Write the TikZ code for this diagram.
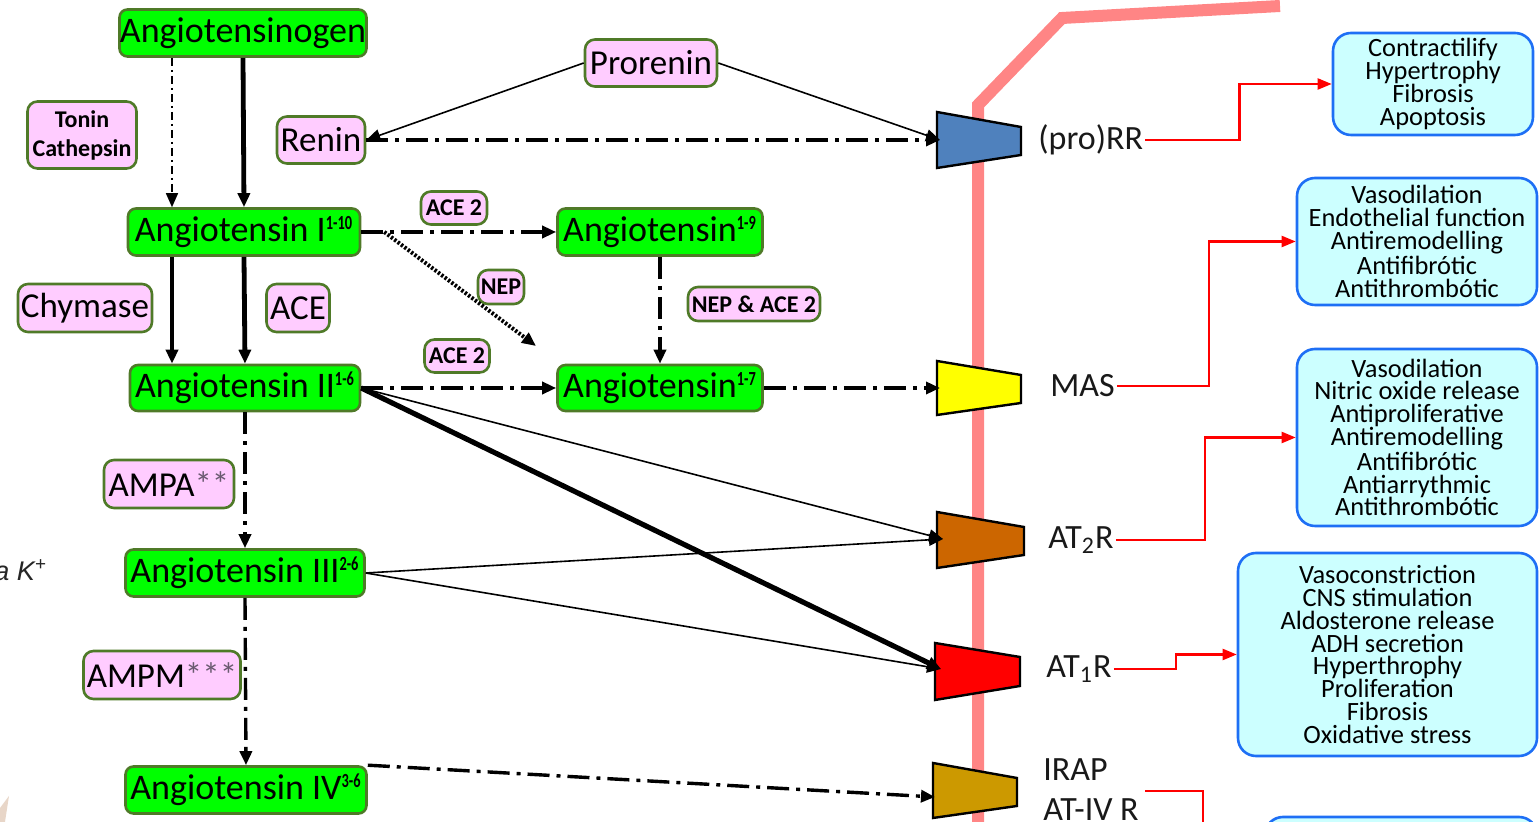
\documentclass[tikz,border=0pt]{standalone}
\usepackage{fontspec}
\setmainfont{Carlito}
\newfontfamily\arialf{Liberation Sans}
\usetikzlibrary{arrows.meta}
\definecolor{gfill}{HTML}{00FF00}
\definecolor{bord}{HTML}{4F7A28}
\definecolor{pfill}{HTML}{FFCCFF}
\definecolor{bfill}{HTML}{CCFFFF}
\definecolor{bbord}{HTML}{1E6FF5}
\definecolor{memb}{HTML}{FF8585}
\definecolor{rblue}{HTML}{4F81BD}
\definecolor{ryellow}{HTML}{FFFF00}
\definecolor{rbrown}{HTML}{CC6600}
\definecolor{rred}{HTML}{FF0000}
\definecolor{rgold}{HTML}{CC9900}
\definecolor{beige}{HTML}{E8D6C8}
\definecolor{astc}{HTML}{6A5A70}
\newcommand{\spr}[1]{\textsuperscript{\scalebox{0.72}[1]{\bfseries\fontsize{10}{10}\selectfont #1}}}
\tikzset{
  sz/.style 2 args={minimum width=#1*0.5pt, minimum height=#2*0.5pt},
  gbox/.style={draw=bord, fill=gfill, line width=1.3pt, rounded corners=4pt, inner sep=0pt, font=\fontsize{18}{19}\selectfont},
  pbox/.style={draw=bord, fill=pfill, line width=1.3pt, rounded corners=5pt, inner sep=0pt, align=center, font=\fontsize{17.5}{19}\selectfont},
  sbox/.style={pbox, font=\bfseries\fontsize{12}{14.5}\selectfont},
  ebox/.style={draw=bbord, fill=bfill, line width=1.3pt, rounded corners=9pt, inner sep=0pt, align=center, font=\fontsize{13.2}{11.4}\selectfont},
  rlab/.style={inner sep=1pt, text=black!90, font=\fontsize{17}{18}\selectfont},
  arr/.style={-{Triangle[length=7pt,width=6pt]}},
  rarr/.style={-{Triangle[length=7pt,width=5.5pt]}},
  thinl/.style={line width=0.8pt},
  thickl/.style={line width=2.4pt},
  ddthick/.style={line width=1.7pt, dash pattern=on 11pt off 3.5pt on 2pt off 3.5pt},
  ddthin/.style={line width=0.8pt, dash pattern=on 4pt off 2pt on 1pt off 2pt},
  dotl/.style={line width=2pt, dash pattern=on 1.2pt off 0.9pt},
  rline/.style={draw=rred, line width=1.1pt},
  recep/.style={draw=black, line width=1.2pt, line join=miter},
}
\begin{document}
\begin{tikzpicture}[x=0.5pt, y=-0.5pt]
\useasboundingbox (0,0) rectangle (1539,822);
\clip (0,0) rectangle (1539,822);

% decoration at bottom left
\fill[beige] (0,808) -- (9,796) -- (5,822) -- (0,822) -- cycle;

% membrane
\draw[memb, line width=6pt] (978,830) -- (978,105) -- (1062,18) -- (1280,6);

% receptors
\filldraw[recep, fill=rblue] (937,112) -- (1021,127) -- (1021,155) -- (937,168) -- cycle;
\filldraw[recep, fill=ryellow] (937,361) -- (1021,375) -- (1021,403) -- (937,415) -- cycle;
\filldraw[recep, fill=rbrown] (937,512) -- (1024,527) -- (1024,555) -- (937,568) -- cycle;
\filldraw[recep, fill=rred] (935,643) -- (1020,657) -- (1020,686) -- (935,700) -- cycle;
\filldraw[recep, fill=rgold] (933,763) -- (1017,778) -- (1017,806) -- (933,818) -- cycle;
\coordinate (prr) at (940,140);
\coordinate (mas) at (940,388);
\coordinate (at2) at (943,539);
\coordinate (at1) at (941,669);
\coordinate (irap) at (935,797);

% receptor labels
\node[rlab, anchor=west] (lprr) at (1036,140) {(pro)RR};
\node[rlab, anchor=west] (lmas) at (1048,386) {MAS};
\node[rlab, anchor=west] (lat2) at (1046,540) {AT\textsubscript{2}R};
\node[rlab, anchor=west] (lat1) at (1044,669) {AT\textsubscript{1}R};
\node[rlab, anchor=west] (lirap) at (1041,770) {IRAP};
\node[rlab, anchor=west] (lativ) at (1041,810) {AT-IV R};

% effect boxes
\node[ebox, sz={200}{102}] (eff1) at (1433,84) {Contractilify\\Hypertrophy\\Fibrosis\\Apoptosis};
\node[ebox, sz={240}{127}] (eff2) at (1417,241.5) {Vasodilation\\Endothelial function\\Antiremodelling\\Antifibrótic\\Antithrombótic};
\node[ebox, sz={240}{177}] (eff3) at (1417,437.5) {Vasodilation\\Nitric oxide release\\Antiproliferative\\Antiremodelling\\Antifibrótic\\Antiarrythmic\\Antithrombótic};
\node[ebox, sz={299}{203}] (eff4) at (1387.5,654.5) {Vasoconstriction\\CNS stimulation\\Aldosterone release\\ADH secretion\\Hyperthrophy\\Proliferation\\Fibrosis\\Oxidative stress};
\node[ebox, sz={272}{90}] (eff5) at (1401,862) {};

% red connectors
\draw[rline, rarr] (lprr.east) -- ++(94,0) |- (eff1.west);
\draw[rline, rarr] (lmas.east) -- ++(92,0) |- (eff2.west);
\draw[rline, rarr] (lat2.east) -- ++(89,0) |- (eff3.west);
\draw[rline, rarr] (lat1.east) -- ++(62,0) |- (eff4.west);
\coordinate (ivs) at (1145,791);
\coordinate (ive) at (1203,840);
\draw[rline] (ivs) -| (ive);

% left text
\node[anchor=base west, inner sep=0pt, text=black!85, font=\arialf\itshape\fontsize{13.5}{14}\selectfont] (ak) at (-6,581) {a K\textsuperscript{+}};

% pathway nodes
\node[gbox, sz={247}{47}] (agen) at (243,33) {Angiotensinogen};
\node[sbox, sz={109}{67}] (tonin) at (82,135) {Tonin\\Cathepsin};
\node[pbox, sz={88}{47}] (renin) at (321,140) {Renin};
\node[pbox, sz={132}{47}] (prorenin) at (651,63) {Prorenin};
\node[gbox, sz={232}{47}] (ang1) at (244,232) {Angiotensin I\spr{1-10}};
\node[sbox, sz={66}{33}] (ace2a) at (454,208) {ACE 2};
\node[gbox, sz={205}{47}] (ang19) at (660,232) {Angiotensin\spr{1-9}};
\node[sbox, sz={46}{34}] (nep) at (501,287) {NEP};
\node[sbox, sz={132}{34}] (nepace) at (754,304) {NEP \& ACE 2};
\node[pbox, sz={134}{48}] (chym) at (85,308) {Chymase};
\node[pbox, sz={63}{48}] (ace) at (298,308) {ACE};
\node[gbox, sz={230}{46}] (ang2) at (245,388) {Angiotensin II\spr{1-6}};
\node[sbox, sz={65}{33}] (ace2b) at (457,356) {ACE 2};
\node[gbox, sz={205}{46}] (ang17) at (660,388) {Angiotensin\spr{1-7}};
\node[pbox, sz={130}{48}] (ampa) at (169,484) {AMPA\textcolor{astc}{**}};
\node[gbox, sz={239}{47}] (ang3) at (245,573) {Angiotensin III\spr{2-6}};
\node[pbox, sz={157}{48}] (ampm) at (162,675) {AMPM\textcolor{astc}{***}};
\node[gbox, sz={241}{47}] (ang4) at (246,790) {Angiotensin IV\spr{3-6}};

% black connectors
\draw[thickl, arr] (agen.south) -- (ang1.north);
\draw[ddthin, arr] ([xshift=-35.5pt]agen.south) -- ([xshift=-35.5pt]agen.south |- ang1.north);
\draw[thickl, arr] (ang1.south) -- (ang2.north);
\draw[thickl, arr] ([xshift=-36pt]ang1.south) -- ([xshift=-36pt]ang1.south |- ang2.north);
\draw[thinl, arr] (prorenin.west) -- (renin.east);
\draw[thinl, arr] (prorenin.east) -- (prr);
\draw[ddthick, arr] (renin.east) -- (prr);
\draw[ddthick, arr] (ang1.east) -- (ang19.west);
\coordinate (nepe) at (536,346);
\draw[dotl, arr] ([xshift=11.5pt]ang1.east) -- (nepe);
\draw[ddthick, arr] (ang19.south) -- (ang17.north);
\draw[ddthick, arr] (ang2.east) -- (ang17.west);
\draw[ddthick, arr] (ang17.east) -- (mas);
\draw[thinl, arr] (ang2.east) -- (at2);
\draw[line width=2.6pt, arr] (ang2.east) -- (at1);
\draw[thinl, arr] (ang3.east) -- (at2);
\draw[thinl, arr] (ang3.east) -- (at1);
\draw[ddthick, arr] (ang2.south) -- (ang3.north);
\draw[ddthick, arr] (ang3.south) -- (ang4.north);
\draw[ddthick, arr] (ang4.north east) -- (irap);
\end{tikzpicture}
\end{document}
